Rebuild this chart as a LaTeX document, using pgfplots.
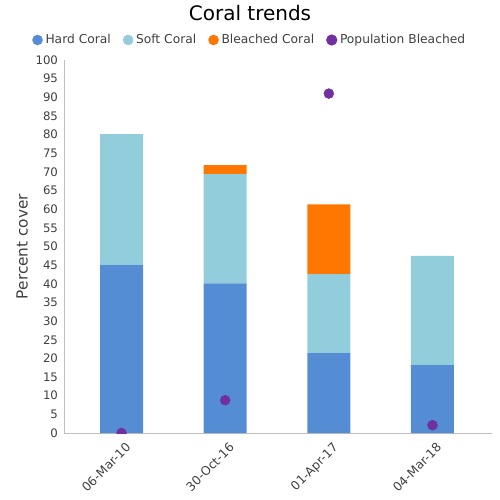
\documentclass[border=0pt]{standalone}
\usepackage{pgfplots}
\pgfplotsset{compat=1.18}
\usepackage{fontspec}
\setmainfont{DejaVu Sans}
\definecolor{hard}{HTML}{548DD4}
\definecolor{soft}{HTML}{92CDDC}
\definecolor{bleach}{HTML}{FF7700}
\definecolor{pop}{HTML}{7030A0}
\definecolor{txt}{HTML}{404040}
\definecolor{axl}{HTML}{BFBFBF}
\begin{document}
\begin{tikzpicture}
\useasboundingbox (-48pt,-50.25pt) rectangle (327pt,324.75pt);
\begin{axis}[
  at={(0,0)}, anchor=south west,
  scale only axis, width=321pt, height=279.75pt,
  ybar stacked, bar width=32.25pt,
  xmin=-0.555, xmax=3.574, ymin=0, ymax=100,
  xtick={0,1,2,3},
  xticklabels={06-Mar-10,30-Oct-16,01-Apr-17,04-Mar-18},
  ytick={0,5,...,100},
  axis lines*=left,
  axis line style={axl},
  major tick length=0pt,
  /pgf/number format/assume math mode=true,
  tick label style={font=\fontsize{8.8}{10}\selectfont, text=txt},
  xticklabel style={rotate=45, anchor=north east, xshift=0.5pt, yshift=-3pt, font=\fontsize{9.2}{10}\selectfont},
  yticklabel style={xshift=-1pt},
  ylabel={Percent cover},
  ylabel style={at={(axis description cs:-0.098,0.5)}, anchor=center, font=\fontsize{11.5}{13}\selectfont, text=txt},
  title={Coral trends},
  every axis title shift=0pt,
  title style={at={(axis description cs:0.5,1)}, anchor=center, xshift=-21pt, yshift=35pt, font=\fontsize{15}{17}\selectfont},
  legend columns=4,
  legend style={at={(axis description cs:0.5,1)}, anchor=center, xshift=-21pt, yshift=15pt, draw=none, fill=none, font=\fontsize{9.2}{11}\selectfont, text=txt, /tikz/every even column/.append style={column sep=7pt}},
]
\addplot[fill=hard, draw=none, legend image code/.code={\fill[hard] (0.1cm,0) circle (0.14cm);}] coordinates {(0,45) (1,40.1) (2,21.4) (3,18.2)};
\addplot[fill=soft, draw=none, legend image code/.code={\fill[soft] (0.1cm,0) circle (0.14cm);}] coordinates {(0,35.1) (1,29.3) (2,21.2) (3,29.3)};
\addplot[fill=bleach, draw=none, legend image code/.code={\fill[bleach] (0.1cm,0) circle (0.14cm);}] coordinates {(0,0) (1,2.4) (2,18.7) (3,0)};
\addlegendimage{legend image code/.code={\fill[pop] (0.1cm,0) circle (0.14cm);}}
\legend{Hard Coral,Soft Coral,Bleached Coral,Population Bleached}
\end{axis}
\begin{axis}[
  at={(0,0)}, anchor=south west,
  scale only axis, width=321pt, height=279.75pt,
  xmin=-0.555, xmax=3.574, ymin=0, ymax=100,
  hide axis, clip marker paths=true,
]
\addplot[only marks, mark=*, mark size=3.7pt, color=pop] coordinates {(0,0) (1,8.8) (2,91) (3,2.1)};
\end{axis}
\end{tikzpicture}
\end{document}
